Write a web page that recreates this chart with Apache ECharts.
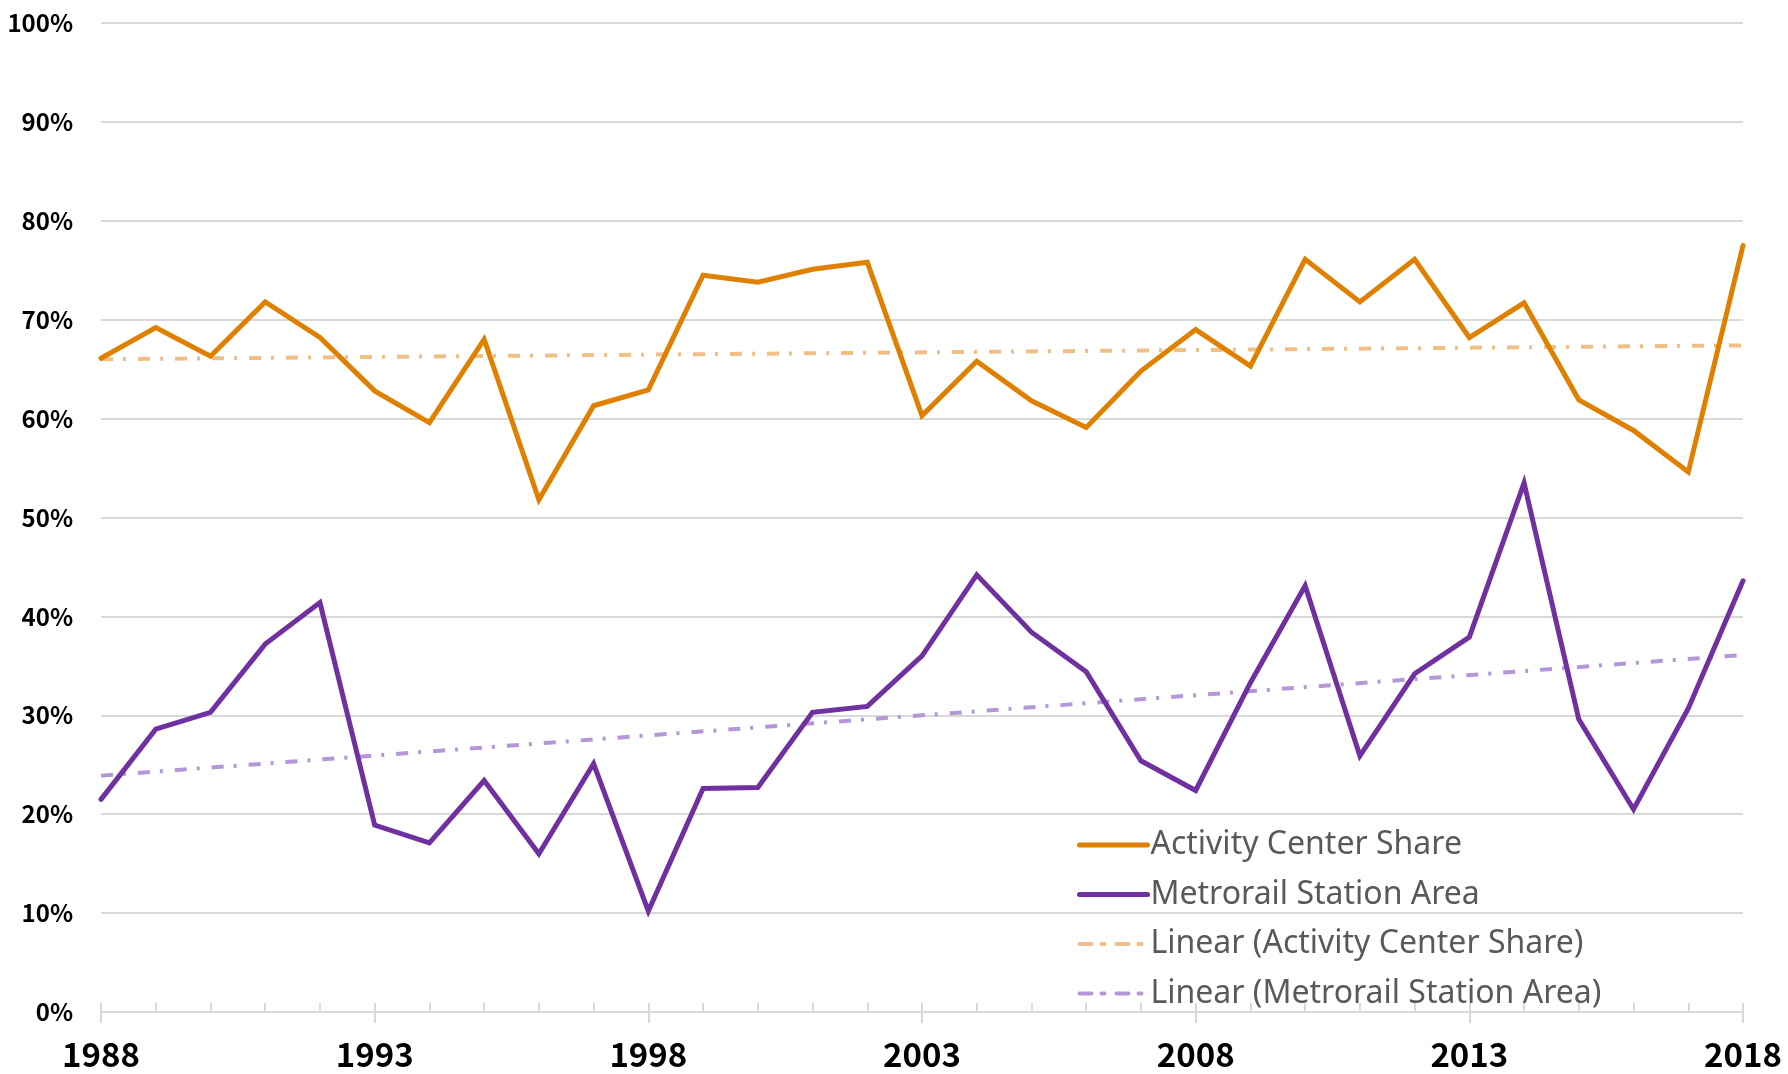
<!DOCTYPE html>
<html>
<head>
<meta charset="utf-8">
<title>Activity Center Share vs Metrorail Station Area</title>
<script src="https://cdn.jsdelivr.net/npm/echarts@6/dist/echarts.min.js"></script>
<style>
  html, body { margin: 0; padding: 0; background: #fff; }
  #chart { width: 1788px; height: 1074px; }
</style>
</head>
<body>
<div id="chart"></div>
<script>
// years on the x axis
const years = [1988, 1989, 1990, 1991, 1992, 1993, 1994, 1995, 1996, 1997,
  1998, 1999, 2000, 2001, 2002, 2003, 2004, 2005, 2006, 2007,
  2008, 2009, 2010, 2011, 2012, 2013, 2014, 2015, 2016, 2017, 2018]

// share in percent
const activityCenter = [66.1, 69.2, 66.3, 71.8, 68.2, 62.8, 59.6, 68.0, 51.8, 61.3,
  62.9, 74.5, 73.8, 75.1, 75.8, 60.3, 65.8, 61.8, 59.1, 64.8,
  69.0, 65.3, 76.1, 71.8, 76.1, 68.2, 71.7, 61.9, 58.8, 54.6, 77.5]
const metrorail = [21.5, 28.6, 30.3, 37.2, 41.4, 18.9, 17.1, 23.4, 16.0, 25.1,
  10.2, 22.6, 22.7, 30.3, 30.9, 36.0, 44.2, 38.4, 34.4, 25.4,
  22.4, 33.3, 43.1, 25.9, 34.2, 37.9, 53.5, 29.6, 20.5, 30.7, 43.6]

// linear trendline end points (1988, 2018)
const trendYears = [1988, 2018]
const activityTrend = [66.0, 67.4]
const metrorailTrend = [23.9, 36.1]

const yTicks = [0, 10, 20, 30, 40, 50, 60, 70, 80, 90, 100]

const ORANGE = '#E08000'
const PURPLE = '#7030A0'
const ORANGE_LIGHT = '#F1BE86'
const PURPLE_LIGHT = '#B497D6'
const FONT = '"Noto Sans CJK SC", "Noto Sans", sans-serif'

const pairs = (xs, ys) => xs.map((x, i) => [x, ys[i]])

const chart = echarts.init(document.getElementById('chart'))

const trendDash = [12, 10, 3, 12]

const option = {
  backgroundColor: '#fff',
  animation: false,
  grid: {
    left: 101,
    right: 45,
    top: 23,
    bottom: 62,
  },
  legend: {
    orient: 'vertical',
    left: 1072,
    top: 824,
    itemWidth: 68,
    itemHeight: 14,
    itemGap: 17.5,
    itemStyle: { opacity: 0 },
    lineStyle: { width: 'inherit', cap: 'round' },
    textStyle: {
      fontFamily: '"Noto Sans", "Open Sans", sans-serif',
      fontSize: 32,
      lineHeight: 30,
      color: '#595959',
      padding: [0, 0, 0, -2],
    },
    data: [
      'Activity Center Share',
      'Metrorail Station Area',
      'Linear (Activity Center Share)',
      'Linear (Metrorail Station Area)',
    ],
  },
  xAxis: [
    {
      // yearly minor ticks pointing up
      type: 'value',
      min: 1988,
      max: 2018,
      interval: 1,
      position: 'bottom',
      axisLine: { show: true, lineStyle: { color: '#D9D9D9', width: 2 } },
      axisTick: { show: true, inside: true, length: 9, lineStyle: { color: '#D9D9D9', width: 2 } },
      axisLabel: { show: false },
      splitLine: { show: false },
    },
    {
      // 5-year ticks and labels
      type: 'value',
      min: 1988,
      max: 2018,
      interval: 5,
      position: 'bottom',
      axisLine: { show: false },
      axisTick: { show: true, length: 11, lineStyle: { color: '#D9D9D9', width: 2 } },
      axisLabel: {
        show: true,
        margin: 26,
        fontFamily: FONT,
        fontSize: 33,
        fontWeight: 'bold',
        color: '#000',
        formatter: (v) => String(v),
      },
      splitLine: { show: false },
    },
  ],
  yAxis: {
    type: 'value',
    min: yTicks[0],
    max: yTicks[yTicks.length - 1],
    interval: 10,
    axisLine: { show: false },
    axisTick: { show: false },
    axisLabel: {
      margin: 28,
      fontFamily: FONT,
      fontSize: 24,
      fontWeight: 'bold',
      color: '#000',
      formatter: '{value}%',
    },
    splitLine: { show: true, lineStyle: { color: '#D9D9D9', width: 2 } },
  },
  series: [
    {
      name: 'Linear (Activity Center Share)',
      type: 'line',
      xAxisIndex: 0,
      data: pairs(trendYears, activityTrend),
      symbol: 'none',
      z: 2,
      lineStyle: { color: ORANGE_LIGHT, width: 4, type: trendDash, cap: 'butt' },
      itemStyle: { color: ORANGE_LIGHT },
    },
    {
      name: 'Linear (Metrorail Station Area)',
      type: 'line',
      xAxisIndex: 0,
      data: pairs(trendYears, metrorailTrend),
      symbol: 'none',
      z: 2,
      lineStyle: { color: PURPLE_LIGHT, width: 4, type: trendDash, cap: 'butt' },
      itemStyle: { color: PURPLE_LIGHT },
    },
    {
      name: 'Activity Center Share',
      type: 'line',
      xAxisIndex: 0,
      data: pairs(years, activityCenter),
      symbol: 'none',
      z: 3,
      lineStyle: { color: ORANGE, width: 5, join: 'miter', cap: 'round' },
      itemStyle: { color: ORANGE },
    },
    {
      name: 'Metrorail Station Area',
      type: 'line',
      xAxisIndex: 0,
      data: pairs(years, metrorail),
      symbol: 'none',
      z: 3,
      lineStyle: { color: PURPLE, width: 5, join: 'miter', cap: 'round' },
      itemStyle: { color: PURPLE },
    },
  ],
}

chart.setOption(option)
</script>
</body>
</html>
